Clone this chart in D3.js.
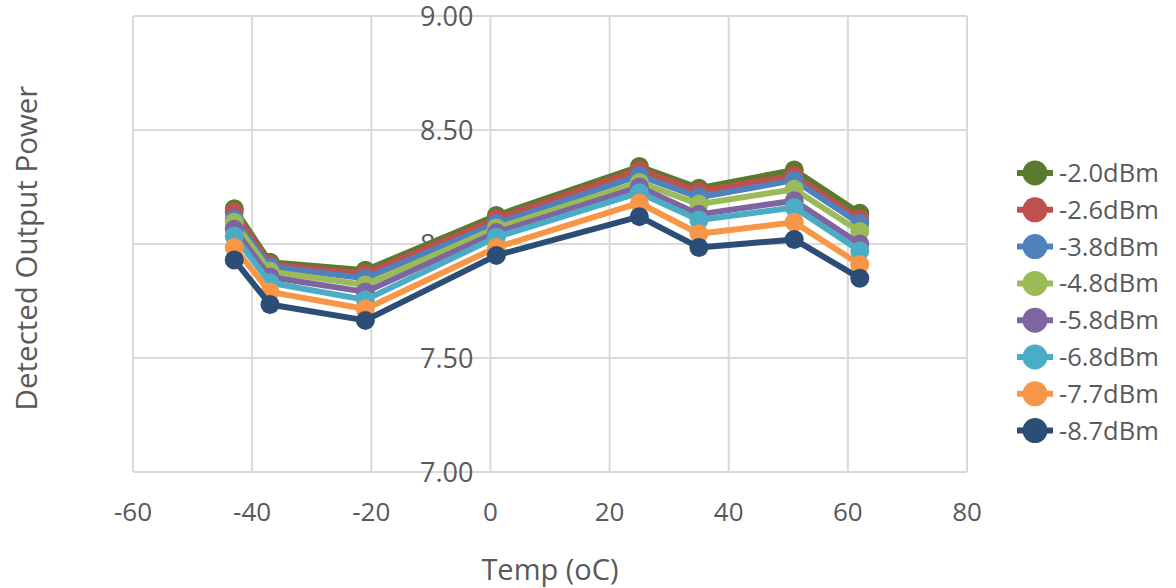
<!DOCTYPE html>
<html>
<head>
<meta charset="utf-8">
<script src="https://cdn.jsdelivr.net/npm/d3@7"></script>
<style>
  body { margin: 0; background: #fff; }
  svg text { font-family: "Open Sans", sans-serif; fill: #595959; }
</style>
</head>
<body>
<svg id="chart" width="1176" height="588"></svg>
<script>
// temperatures (oC)
var temps = [-43, -37, -21, 1, 25, 35, 51, 62];

// input power levels
var seriesNames = ["-2.0dBm", "-2.6dBm", "-3.8dBm", "-4.8dBm", "-5.8dBm", "-6.8dBm", "-7.7dBm", "-8.7dBm"];

// detected output power per series
var p20 = [8.155, 7.92, 7.885, 8.125, 8.34, 8.245, 8.325, 8.135];
var p26 = [8.14, 7.91, 7.87, 8.11, 8.325, 8.23, 8.30, 8.11];
var p38 = [8.11, 7.90, 7.85, 8.09, 8.30, 8.205, 8.28, 8.09];
var p48 = [8.095, 7.88, 7.82, 8.07, 8.27, 8.175, 8.24, 8.055];
var p58 = [8.065, 7.855, 7.79, 8.05, 8.25, 8.13, 8.19, 8.00];
var p68 = [8.035, 7.83, 7.755, 8.03, 8.225, 8.105, 8.16, 7.97];
var p77 = [7.985, 7.79, 7.715, 7.985, 8.18, 8.045, 8.095, 7.91];
var p87 = [7.93, 7.735, 7.665, 7.95, 8.12, 7.985, 8.02, 7.85];

var colors = ["#5B7A2E", "#C0504D", "#4F81BD", "#9BBB59", "#8064A2", "#4BACC6", "#F79646", "#2C4D75"];

var xTicks = [-60, -40, -20, 0, 20, 40, 60, 80];
var yTicks = [7.00, 7.50, 8, 8.50, 9.00];
var yTickLabels = ["7.00", "7.50", "8.00", "8.50", "9.00"];

var allSeries = [p20, p26, p38, p48, p58, p68, p77, p87];

var svg = d3.select("#chart");
var mLeft = 133, mRight = 967, mTop = 16, mBottom = 472;

var x = d3.scaleLinear().domain([-60, 80]).range([mLeft, mRight]);
var y = d3.scaleLinear().domain([7, 9]).range([mBottom, mTop]);

var grid = svg.append("g");
grid.selectAll("line.v").data(xTicks).enter().append("line")
    .attr("x1", d => x(d)).attr("x2", d => x(d))
    .attr("y1", mTop).attr("y2", mBottom)
    .attr("stroke", "#d9d9d9").attr("stroke-width", 2);
grid.selectAll("line.h").data(yTicks).enter().append("line")
    .attr("x1", mLeft).attr("x2", mRight)
    .attr("y1", d => y(d)).attr("y2", d => y(d))
    .attr("stroke", "#d9d9d9").attr("stroke-width", 2);

// y tick labels sit beside the x=0 line, under the series
svg.append("g").selectAll("text").data(yTicks).enter().append("text")
    .attr("x", x(0) - 17).attr("y", d => y(d) + 10)
    .attr("text-anchor", "end")
    .style("font-size", "27px")
    .text((d, i) => yTickLabels[i]);

svg.append("g").selectAll("text").data(xTicks).enter().append("text")
    .attr("x", d => x(d)).attr("y", 521)
    .attr("text-anchor", "middle")
    .style("font-size", "26px")
    .text(d => d);

svg.append("text")
    .attr("x", (mLeft + mRight) / 2).attr("y", 580)
    .attr("text-anchor", "middle")
    .style("font-size", "29px")
    .text("Temp (oC)");

svg.append("text")
    .attr("transform", "translate(37," + ((mTop + mBottom) / 2 + 4) + ") rotate(-90)")
    .attr("text-anchor", "middle")
    .style("font-size", "29.5px")
    .text("Detected Output Power");

var line = d3.line().x((d, i) => x(temps[i])).y(d => y(d));

allSeries.forEach(function(vals, s) {
    var g = svg.append("g");
    g.append("path")
        .attr("d", line(vals))
        .attr("fill", "none")
        .attr("stroke", colors[s])
        .attr("stroke-width", 6)
        .attr("stroke-linejoin", "round");
    g.selectAll("circle").data(vals).enter().append("circle")
        .attr("cx", (d, i) => x(temps[i]))
        .attr("cy", d => y(d))
        .attr("r", 9.5)
        .attr("fill", colors[s]);
});

// legend
var legend = svg.append("g").attr("transform", "translate(1035,173)");
var rows = legend.selectAll("g").data(seriesNames).enter().append("g")
    .attr("transform", (d, i) => "translate(0," + (i * 36.8) + ")");
rows.append("line")
    .attr("x1", -18).attr("x2", 18)
    .attr("stroke", (d, i) => colors[i]).attr("stroke-width", 6);
rows.append("circle").attr("r", 12.5).attr("fill", (d, i) => colors[i]);
rows.append("text")
    .attr("x", 24).attr("y", 9)
    .style("font-size", "25.5px")
    .text(d => d);
</script>
</body>
</html>
